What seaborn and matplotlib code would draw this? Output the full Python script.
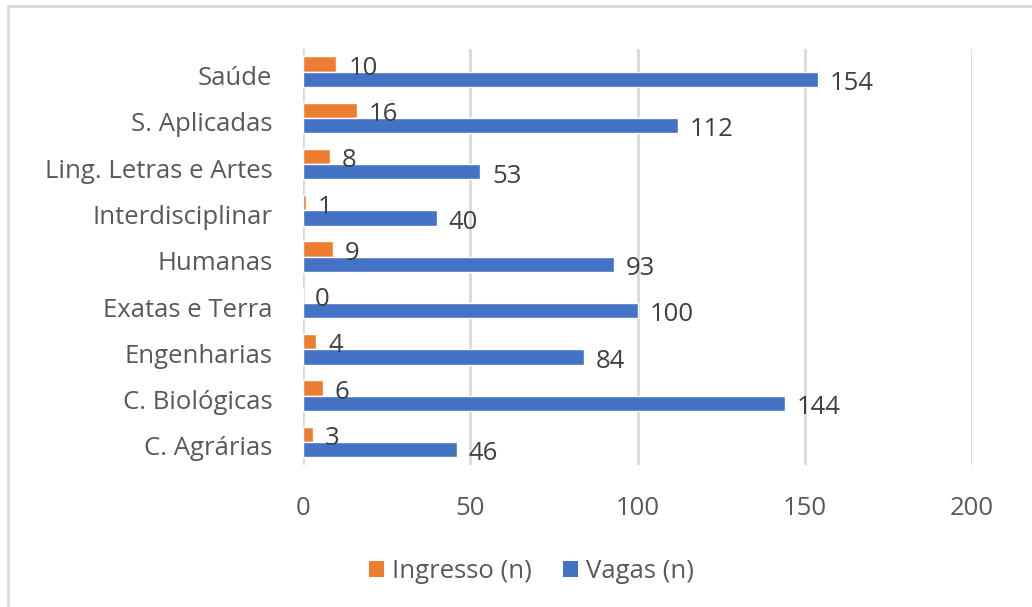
import pandas as pd
import matplotlib
matplotlib.use("Agg")
import matplotlib.pyplot as plt
import matplotlib.transforms as mtransforms
import seaborn as sns
from matplotlib.lines import Line2D
from matplotlib.patches import Patch

# chart data
areas = ["Saúde", "S. Aplicadas", "Ling. Letras e Artes", "Interdisciplinar",
         "Humanas", "Exatas e Terra", "Engenharias", "C. Biológicas", "C. Agrárias"]
ingresso = [10, 16, 8, 1, 9, 0, 4, 6, 3]
vagas = [154, 112, 53, 40, 93, 100, 84, 144, 46]
series = ["Ingresso (n)", "Vagas (n)"]
colors = ["#ED7D31", "#4472C4"]
xticks = [0, 50, 100, 150, 200]

df = pd.DataFrame({
    "area": areas * 2,
    "serie": [series[0]] * len(areas) + [series[1]] * len(areas),
    "valor": ingresso + vagas,
})

sns.set_style("white")
plt.rcParams["font.family"] = ["Open Sans", "DejaVu Sans"]
fs = 18.5

fig = plt.figure(figsize=(10.32, 6.07), dpi=100)
ax = fig.add_axes([0.2936, 0.234, 0.6483, 0.686])

sns.barplot(data=df, x="valor", y="area", hue="serie", order=areas,
            hue_order=series, palette=colors, saturation=1, orient="h",
            width=0.66, dodge=True, gap=0, errorbar=None, ax=ax,
            legend=False, zorder=3)

# data labels next to each bar
for cont in ax.containers:
    for bar in cont:
        w = bar.get_width()
        y = bar.get_y() + bar.get_height() / 2
        ax.annotate(f"{int(w)}", xy=(w, y), xytext=(8.5, -3),
                    textcoords="offset points", ha="left", va="center",
                    fontsize=fs, color="#404040", zorder=5)

ax.set_xlim(0, 200)
ax.set_xticks(xticks)
ax.set_xticklabels([str(t) for t in xticks])
ax.set_xlabel("")
ax.set_ylabel("")
ax.grid(axis="x", color="#D9D9D9", linewidth=2, zorder=0)
ax.grid(axis="y", visible=False)
for s in ax.spines.values():
    s.set_visible(False)
ax.tick_params(axis="x", length=0, pad=22, labelsize=fs, labelcolor="#595959")
ax.tick_params(axis="y", length=0, pad=22, labelsize=fs, labelcolor="#595959")

# nudge category labels slightly down, like the reference
shift = mtransforms.ScaledTranslation(0, -4 / 100, fig.dpi_scale_trans)
for lab in ax.get_yticklabels():
    lab.set_transform(lab.get_transform() + shift)

# legend
handles = [Patch(facecolor=c, edgecolor="none") for c in colors]
fig.legend(handles, series, loc="center", bbox_to_anchor=(0.515, 0.058), ncol=2,
           frameon=False, fontsize=fs, handlelength=0.6, handleheight=0.6,
           handletextpad=0.3, columnspacing=1.2, labelcolor="#595959")

# chart area border (top and left only visible)
fig.add_artist(Line2D([8 / 1032, 1], [1 - 6 / 607, 1 - 6 / 607],
                      transform=fig.transFigure, color="#D9D9D9", linewidth=2))
fig.add_artist(Line2D([8 / 1032, 8 / 1032], [0, 1 - 6 / 607],
                      transform=fig.transFigure, color="#D9D9D9", linewidth=2))

fig.savefig("out.png", dpi=100)
